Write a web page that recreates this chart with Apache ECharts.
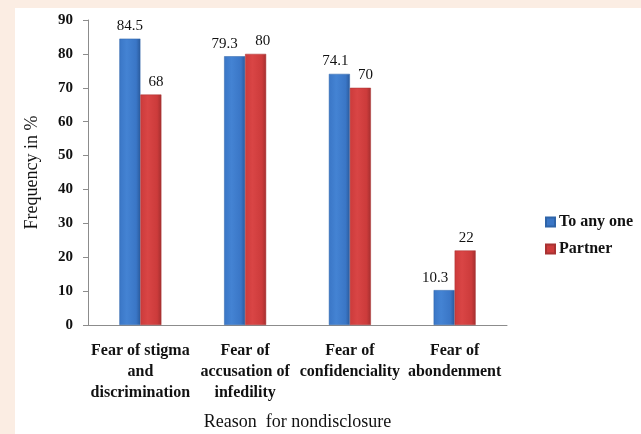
<!DOCTYPE html>
<html>
<head>
<meta charset="utf-8">
<script src="https://cdn.jsdelivr.net/npm/echarts@6/dist/echarts.min.js"></script>
<style>
  html, body { margin: 0; padding: 0; background: #fbede3; }
  #chart { width: 641px; height: 434px; }
</style>
</head>
<body>
<div id="chart"></div>
<script>
// Reasons for nondisclosure and the share (%) citing each one
const categories = [
  'Fear of stigma\nand\ndiscrimination',
  'Fear of\naccusation of\ninfedility',
  'Fear of\nconfidenciality',
  'Fear of\nabondenment'
];
const toAnyOne = [84.5, 79.3, 74.1, 10.3];
const partner = [68, 80, 70, 22];
const yTicks = [0, 10, 20, 30, 40, 50, 60, 70, 80, 90];

// Horizontal nudges that keep neighbouring value labels apart
const blueLabelShift = [0, -10, -4, -9];
const redLabelShift = [5, 7, 5, 1];

const serif = '"Liberation Serif", "DejaVu Serif", serif';

function barFill(dark, mid, light) {
  return new echarts.graphic.LinearGradient(0, 0, 1, 0, [
    { offset: 0, color: mid },
    { offset: 0.35, color: light },
    { offset: 0.8, color: mid },
    { offset: 1, color: dark }
  ]);
}

const blueFill = barFill('#2a5a9c', '#3a76c6', '#4483d3');
const redFill = barFill('#a42f2f', '#cc3b3b', '#d94545');

function withLabelShift(values, shifts) {
  return values.map((v, i) => ({ value: v, label: { offset: [shifts[i], 0] } }));
}

const valueLabel = {
  show: true,
  position: 'top',
  distance: 5,
  fontFamily: serif,
  fontSize: 15,
  color: '#111'
};

const chart = echarts.init(document.getElementById('chart'), null, { renderer: 'canvas' });

chart.setOption({
  backgroundColor: '#fbede3',
  animation: false,
  graphic: [{
    type: 'rect',
    z: -10,
    shape: { x: 15, y: 8, width: 626, height: 426 },
    style: { fill: '#ffffff' }
  }],
  grid: { left: 88, top: 20, width: 419, height: 305, outerBoundsMode: 'none' },
  legend: {
    orient: 'vertical',
    left: 540,
    top: 209,
    itemWidth: 9,
    itemHeight: 9,
    itemGap: 11,
    textStyle: { fontFamily: serif, fontSize: 16, fontWeight: 'bold', color: '#111', padding: [0, 0, 0, -1] },
    data: [
      { name: 'To any one', icon: 'rect', itemStyle: { color: '#3a76c6' } },
      { name: 'Partner', icon: 'rect', itemStyle: { color: '#cc3b3b' } }
    ]
  },
  xAxis: {
    type: 'category',
    data: categories,
    name: 'Reason  for nondisclosure',
    nameLocation: 'middle',
    nameGap: 88,
    nameTextStyle: { fontFamily: serif, fontSize: 18, color: '#111' },
    axisLine: { lineStyle: { color: '#8c8c8c' } },
    axisTick: { show: false },
    axisLabel: {
      interval: 0,
      margin: 15,
      fontFamily: serif,
      fontSize: 16,
      fontWeight: 'bold',
      color: '#111',
      lineHeight: 21
    }
  },
  yAxis: {
    type: 'value',
    min: yTicks[0],
    max: yTicks[yTicks.length - 1],
    interval: 10,
    name: 'Frequency in %',
    nameLocation: 'middle',
    nameGap: 47,
    nameRotate: 90,
    nameTextStyle: { fontFamily: serif, fontSize: 18, color: '#111' },
    axisLine: { show: true, lineStyle: { color: '#8c8c8c' } },
    axisTick: { show: true, length: 5, lineStyle: { color: '#8c8c8c' } },
    splitLine: { show: false },
    axisLabel: {
      margin: 15,
      fontFamily: serif,
      fontSize: 15,
      fontWeight: 'bold',
      color: '#111'
    }
  },
  series: [
    {
      name: 'To any one',
      type: 'bar',
      data: withLabelShift(toAnyOne, blueLabelShift),
      barWidth: 21,
      barGap: '0%',
      itemStyle: { color: blueFill, borderColor: '#2f64a8', borderWidth: 0.5 },
      label: valueLabel
    },
    {
      name: 'Partner',
      type: 'bar',
      data: withLabelShift(partner, redLabelShift),
      barWidth: 21,
      itemStyle: { color: redFill, borderColor: '#a83232', borderWidth: 0.5 },
      label: valueLabel
    }
  ]
});
</script>
</body>
</html>
